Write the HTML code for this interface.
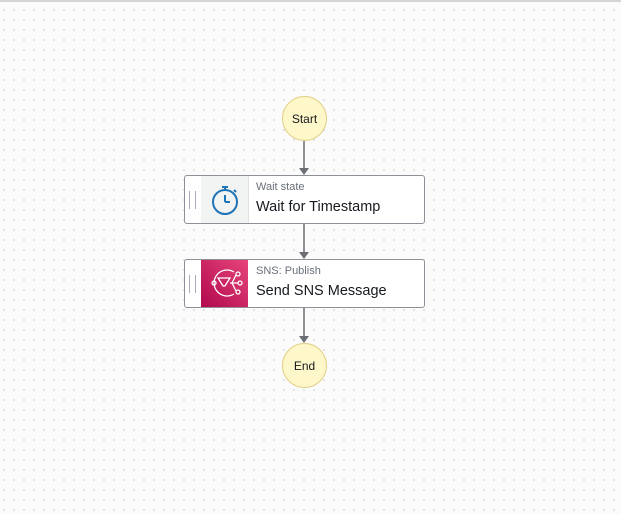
<!DOCTYPE html>
<html><head><style>
body{margin:0;width:621px;height:514px;overflow:hidden;font-family:"Liberation Sans",sans-serif;
background-color:#fbfbfc;background-image:radial-gradient(circle,#dcdce0 0.8px,transparent 1.1px);background-size:10px 10px;background-position:-1px -5px;position:relative}
.top{position:absolute;left:0;top:0;width:621px;height:2px;background:#d5d5d8}
.c{position:absolute;width:43px;height:43px;border-radius:50%;background:#fdf7c9;border:1px solid #e2cf85;font-size:12px;color:#16191f;display:flex;align-items:center;justify-content:center}
.b{position:absolute;left:184px;width:241px;height:49px;background:#fff;border:1px solid #8d9096;border-radius:3px;box-sizing:border-box}
.h{position:absolute;left:4px;top:15px;width:5px;height:18px;border-left:1px solid #aab;border-right:1px solid #aab}
.ic{position:absolute;left:16px;top:0;width:47px;height:47px}
.t1{position:absolute;left:71px;top:5px;font-size:11px;color:#687078}
.t2{position:absolute;left:71px;top:23px;font-size:14.5px;color:#16191f}
</style></head><body>
<div class="top"></div>
<svg width="621" height="514" style="position:absolute;left:0;top:0">
<g stroke="#6b6f75" stroke-width="1.5"><line x1="304" y1="141" x2="304" y2="169"/><line x1="304" y1="224" x2="304" y2="253"/><line x1="304" y1="307" x2="304" y2="337"/></g>
<g fill="#6b6f75"><polygon points="299,168 309,168 304,175"/><polygon points="299,252 309,252 304,259"/><polygon points="299,336 309,336 304,343"/></g>
</svg>
<div class="c" style="left:282px;top:96px">Start</div>
<div class="b" style="top:175px"><div class="h"></div>
<div class="ic" style="background:#f2f3f3;border-right:1px solid #e1e1e1">
<svg width="48" height="46"><g fill="none" stroke="#1f73b7" stroke-width="2"><circle cx="24" cy="26" r="12"/><line x1="24" y1="26" x2="24" y2="19"/><line x1="24" y1="26" x2="29" y2="26"/><line x1="21" y1="11" x2="27" y2="11"/><line x1="24" y1="11" x2="24" y2="14"/><line x1="33" y1="14" x2="35" y2="16"/></g></svg></div>
<div class="t1">Wait state</div><div class="t2">Wait for Timestamp</div></div>
<div class="b" style="top:259px"><div class="h"></div>
<div class="ic" style="background:linear-gradient(45deg,#b0084d,#e7457b)">
<svg width="48" height="46"><g fill="none" stroke="#fff" stroke-width="1.3"><path d="M33 12 A13 13 0 1 0 33 34"/><path d="M17 18 L29 18 L24 26 L22 26 Z"/><circle cx="13" cy="23" r="2"/><circle cx="37" cy="14" r="2"/><circle cx="39" cy="23" r="2"/><circle cx="37" cy="32" r="2"/><path d="M29 23 H37 M31 23 L35 15 M31 23 L35 31"/></g></svg></div>
<div class="t1">SNS: Publish</div><div class="t2">Send SNS Message</div></div>
<div class="c" style="left:282px;top:343px">End</div>
</body></html>
